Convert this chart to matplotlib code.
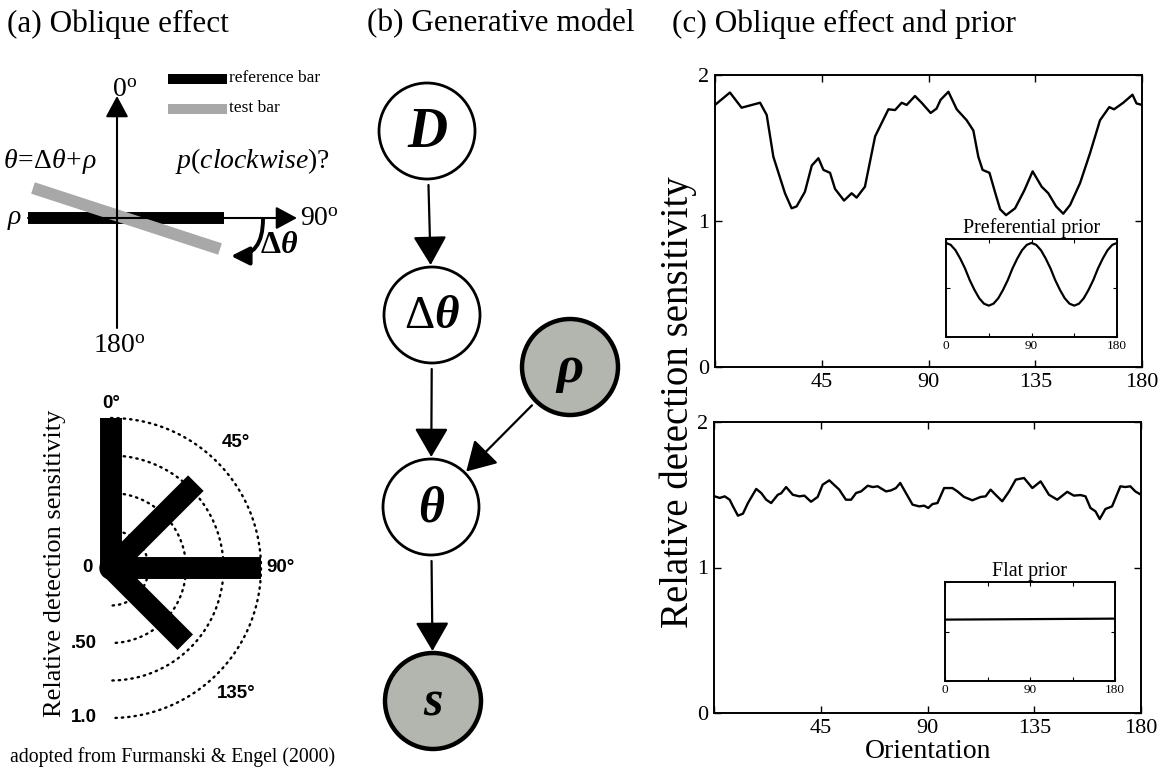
import numpy as np
import matplotlib
matplotlib.use('Agg')
import matplotlib.pyplot as plt
from matplotlib.patches import Circle, FancyArrowPatch

plt.rcParams['font.family'] = ['Liberation Serif', 'DejaVu Serif']
plt.rcParams['mathtext.fontset'] = 'custom'
plt.rcParams['mathtext.rm'] = 'Liberation Serif'
plt.rcParams['mathtext.it'] = 'Liberation Serif:italic'
plt.rcParams['mathtext.bf'] = 'Liberation Serif:bold'
plt.rcParams['mathtext.bfit'] = 'Liberation Serif:italic:bold'

# ---- panel (c) data: detection sensitivity vs orientation ----
pref_x = [0, 6.3, 11.2, 19, 21.8, 24.6, 29.5, 32.3, 34.4, 37.9, 40.8, 43.6, 45.7, 48.5,
          50.6, 54.4, 57.6, 59.7, 63.2, 67.5, 73.1, 75.9, 78.7, 80.8, 84.3, 87.1, 90.9,
          93.4, 95.1, 98.4, 101.9, 106.1, 108.9, 111, 112.8, 115.7, 118, 120.2, 122.7,
          126.5, 130.4, 133.9, 137.7, 140.5, 143.8, 146.8, 149.7, 153.9, 158, 162.3,
          166.2, 168.2, 172.1, 176, 177.7, 180]
pref_y = [1.795, 1.88, 1.776, 1.81, 1.726, 1.44, 1.19, 1.087, 1.10, 1.20, 1.38, 1.43, 1.35,
          1.33, 1.22, 1.14, 1.19, 1.16, 1.235, 1.58, 1.765, 1.76, 1.81, 1.795, 1.856, 1.81,
          1.74, 1.77, 1.83, 1.885, 1.765, 1.69, 1.62, 1.44, 1.35, 1.33, 1.20, 1.08, 1.04,
          1.087, 1.21, 1.34, 1.235, 1.19, 1.10, 1.05, 1.11, 1.26, 1.46, 1.69, 1.78, 1.765,
          1.81, 1.865, 1.805, 1.795]

flat_x = [0.3, 2.4, 4.5, 6.6, 8.0, 10.1, 12.2, 14.3, 17.8, 19.9, 22.0, 24.1, 26.9, 28.3,
          30.4, 33.2, 36.0, 38.1, 40.9, 43.7, 45.8, 48.6, 52.8, 55.6, 57.8, 59.9, 62.0,
          64.8, 66.9, 69.0, 72.5, 74.6, 76.7, 78.5, 80.9, 83.7, 86.5, 88.6, 90.3, 92.1,
          94.2, 97.0, 100.5, 102.6, 105.4, 108.9, 112.4, 114.5, 116.6, 118.7, 121.5, 124.4,
          127.2, 130.7, 134.2, 137.7, 141.2, 144.7, 148.9, 151.7, 154.5, 156.6, 158.7,
          160.8, 162.6, 165.0, 167.8, 171.3, 173.4, 175.5, 177.6, 180]
flat_y = [1.489, 1.478, 1.489, 1.466, 1.42, 1.356, 1.37, 1.443, 1.54, 1.512, 1.466, 1.443,
          1.50, 1.51, 1.553, 1.50, 1.489, 1.494, 1.452, 1.485, 1.569, 1.599, 1.535, 1.466,
          1.466, 1.512, 1.523, 1.562, 1.553, 1.558, 1.523, 1.53, 1.546, 1.581, 1.512, 1.432,
          1.42, 1.425, 1.409, 1.436, 1.443, 1.546, 1.546, 1.523, 1.485, 1.462, 1.485, 1.489,
          1.535, 1.50, 1.455, 1.523, 1.604, 1.615, 1.546, 1.592, 1.50, 1.466, 1.52, 1.494,
          1.498, 1.489, 1.409, 1.386, 1.333, 1.402, 1.42, 1.558, 1.553, 1.558, 1.523, 1.50]

prior_x = list(range(0, 181, 5))
pref_prior = [0.96, 0.94, 0.885, 0.80, 0.70, 0.58, 0.48, 0.395, 0.34, 0.32, 0.34, 0.395,
              0.48, 0.58, 0.70, 0.80, 0.885, 0.94, 0.96, 0.94, 0.885, 0.80, 0.70, 0.58,
              0.48, 0.395, 0.34, 0.32, 0.34, 0.395, 0.48, 0.58, 0.70, 0.80, 0.885, 0.94, 0.96]
flat_prior_x = [0, 180]
flat_prior = [0.62, 0.63]

main_xticks = [0, 45, 90, 135, 180]
main_xlabels = ['', '45', '90', '135', '180']
inset_xlabels = ['0', '', '90', '', '180']

# ---- panel (a) polar data (Furmanski & Engel 2000) ----
polar_angles = [0, 45, 90, 135]
polar_sens = [1.0, 0.8, 1.0, 0.7]
polar_rings = [0.25, 0.5, 0.75, 1.0]
polar_angle_labels = ['0°', '45°', '90°', '135°']
radial_ticks = [0, 0.5, 1.0]
radial_labels = ['0', '.50', '1.0']

# ---- panel (b) graph ----
node_pos = {'D': (427, 131), 'dth': (432, 315), 'rho': (570, 367),
            'th': (431, 507), 's': (433, 701)}
node_text = {'D': 'D', 'dth': r'$\Delta\mathbfit{\theta}$', 'rho': 'ρ', 'th': 'θ', 's': 's'}
node_size = {'D': 40, 'dth': 34, 'rho': 38, 'th': 36, 's': 36}
observed = ['rho', 's']
edges = [('D', 'dth'), ('dth', 'th'), ('rho', 'th'), ('th', 's')]

W, H = 1168, 767
fig = plt.figure(figsize=(W / 100, H / 100), dpi=100)
bg = fig.add_axes([0, 0, 1, 1])
bg.set_xlim(0, W)
bg.set_ylim(H, 0)
bg.axis('off')


def px_axes(l, t, r, b):
    return fig.add_axes([l / W, 1 - b / H, (r - l) / W, (b - t) / H])


# titles
bg.text(7, 24, '(a) Oblique effect', fontsize=22.5, va='center', ha='left')
bg.text(367, 24, '(b) Generative model', fontsize=22.5, va='center', ha='left')
bg.text(672, 24, '(c) Oblique effect and prior', fontsize=22.5, va='center', ha='left')

# ---- panel (a) schematic ----
gray = '#a8a8a8'
ax_arrow = dict(arrowstyle='-|>,head_length=1.3,head_width=0.7', mutation_scale=10,
                lw=1.5, color='k', shrinkA=0, shrinkB=0)
bg.annotate('', xy=(117, 96), xytext=(117, 328), arrowprops=ax_arrow)
bg.annotate('', xy=(297, 218), xytext=(28, 218), arrowprops=ax_arrow)
bg.plot([28, 224], [218, 218], color='k', lw=8.6, solid_capstyle='butt')
bg.plot([33, 220], [188, 249], color=gray, lw=8.6, solid_capstyle='butt')
bg.plot([168, 227], [79, 79], color='k', lw=7.2, solid_capstyle='butt')
bg.plot([168, 227], [109, 109], color=gray, lw=7.2, solid_capstyle='butt')
bg.text(229, 78, 'reference bar', fontsize=12.5, va='center')
bg.text(229, 108, 'test bar', fontsize=12.5, va='center')
bg.text(112, 97, r'$0^{\rm o}$', fontsize=20, va='baseline')
bg.text(300, 226, r'$90^{\rm o}$', fontsize=20, va='baseline')
bg.text(93, 353, r'$180^{\rm o}$', fontsize=20, va='baseline')
bg.text(8, 224, 'ρ', fontsize=20, style='italic', va='baseline')
bg.text(3, 168, r'$\theta\!=\!\Delta\theta\!+\!\rho$', fontsize=20, va='baseline')
bg.text(175, 168, r'$p$($clockwise$)?', fontsize=20, va='baseline')
bg.add_patch(FancyArrowPatch((263, 219), (231, 256),
                             connectionstyle='angle3,angleA=90,angleB=0',
                             arrowstyle='-|>,head_length=1.1,head_width=0.55',
                             mutation_scale=10, lw=2.8, color='k',
                             shrinkA=0, shrinkB=0))
bg.text(260, 253, r'$\mathbf{\Delta}\mathbfit{\theta}$', fontsize=23, va='baseline')

# polar plot
cx, cy, sc = 111, 568, 150
t = np.radians(np.linspace(0, 180, 200))
for r in polar_rings:
    bg.plot(cx + r * sc * np.sin(t), cy - r * sc * np.cos(t), color='k', lw=1.7,
            linestyle=(0, (0.6, 2.1)), dash_capstyle='round')
for a, r in zip(polar_angles, polar_sens):
    ar = np.radians(a)
    bg.plot([cx, cx + r * sc * np.sin(ar)], [cy, cy - r * sc * np.cos(ar)], color='k',
            lw=15.8, solid_capstyle='butt')
bg.add_patch(Circle((cx, cy), 11, color='k'))
lab_r = [1.1, 1.18, 1.02, 1.18]
lab_ha = ['center', 'center', 'left', 'center']
for a, lr, txt, ha in zip(polar_angles, lab_r, polar_angle_labels, lab_ha):
    ar = np.radians(a)
    bg.text(cx + lr * sc * np.sin(ar) + (2 if ha == 'left' else 0), cy - lr * sc * np.cos(ar),
            txt, fontsize=13.5, family='Liberation Sans', fontweight='bold',
            ha=ha, va='center')
for r, txt in zip(radial_ticks, radial_labels):
    bg.text(97 if r > 0 else 93, cy + r * sc, txt, fontsize=13.5, family='Liberation Sans',
            fontweight='bold', ha='right', va='center')
bg.text(55, 563, 'Relative detection sensitivity', fontsize=19, rotation=90,
        ha='center', va='center')
bg.text(10, 757, 'adopted from Furmanski & Engel (2000)', fontsize=14.2, va='center')

# ---- panel (b) graphical model ----
rad = 48
for k, (x, y) in node_pos.items():
    obs = k in observed
    bg.add_patch(Circle((x, y), rad, facecolor='#b3b6ae' if obs else 'white',
                        edgecolor='k', lw=3.2 if obs else 2.0, zorder=3))
    if k == 'dth':
        bg.text(x, y + 2, node_text[k], fontsize=node_size[k], ha='center', va='center', zorder=4)
    else:
        bg.text(x, y + 2, node_text[k], fontsize=node_size[k], ha='center', va='center',
                style='italic', fontweight='bold', zorder=4)
for a, b in edges:
    (x0, y0), (x1, y1) = node_pos[a], node_pos[b]
    d = np.hypot(x1 - x0, y1 - y0)
    ux, uy = (x1 - x0) / d, (y1 - y0) / d
    bg.add_patch(FancyArrowPatch((x0 + ux * (rad + 6), y0 + uy * (rad + 6)),
                                 (x1 - ux * (rad + 2), y1 - uy * (rad + 2)),
                                 arrowstyle='-|>,head_length=1.8,head_width=1.05',
                                 mutation_scale=10, lw=1.6, color='k',
                                 shrinkA=0, shrinkB=0))

# ---- panel (c) ----


def style_main(ax):
    ax.set_xlim(0, 180)
    ax.set_ylim(0, 2)
    ax.set_xticks(main_xticks)
    ax.set_xticklabels(main_xlabels)
    ax.set_yticks([0, 1, 2])
    ax.tick_params(direction='in', top=True, right=True, length=5, width=1,
                   labelsize=16, pad=4)
    for s in ax.spines.values():
        s.set_linewidth(1.4)


def style_inset(ax, title):
    ax.set_xlim(0, 180)
    ax.set_ylim(0, 1)
    ax.set_xticks(main_xticks)
    ax.set_xticklabels(inset_xlabels)
    ax.set_yticks([0, 0.5, 1])
    ax.set_yticklabels([])
    ax.tick_params(direction='in', top=True, right=True, length=3, width=0.8,
                   labelsize=9.5, pad=2)
    for s in ax.spines.values():
        s.set_linewidth(1.4)
    ax.set_title(title, fontsize=14.4, pad=4)


ax1 = px_axes(715, 75, 1142, 367)
ax1.plot(pref_x, pref_y, color='k', lw=1.7)
style_main(ax1)
ins1 = px_axes(946, 239, 1117, 337)
ins1.plot(prior_x, pref_prior, color='k', lw=1.6)
style_inset(ins1, 'Preferential prior')

ax2 = px_axes(714, 422, 1141, 713)
ax2.plot(flat_x, flat_y, color='k', lw=1.7)
style_main(ax2)
ins2 = px_axes(945, 582, 1115, 681)
ins2.plot(flat_prior_x, flat_prior, color='k', lw=1.6)
style_inset(ins2, 'Flat prior')

bg.text(678, 402, 'Relative detection sensitivity', fontsize=28, rotation=90,
        ha='center', va='center')
bg.text(928, 751, 'Orientation', fontsize=20, ha='center', va='center')

fig.savefig('out.png', dpi=100)
